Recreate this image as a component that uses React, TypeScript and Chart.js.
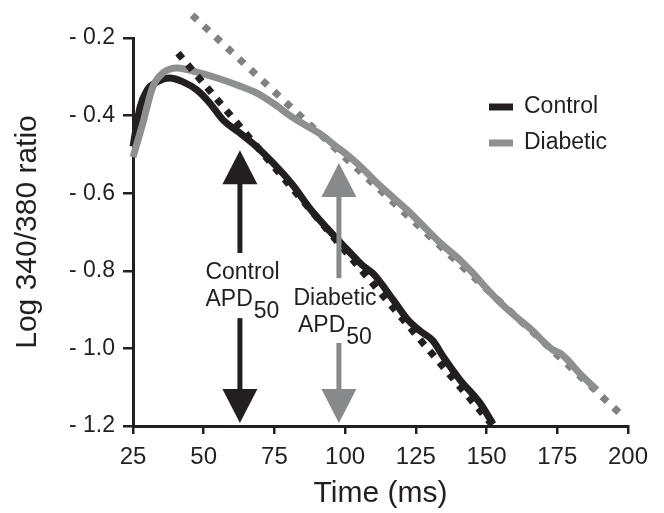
import React, { useEffect, useRef } from "react";
import { Chart, registerables } from "chart.js";

Chart.register(...registerables);

const FONT = "'Liberation Sans', Arial, Helvetica, sans-serif";
const INK = "#231f20";
const GRAY = "#8e8f91";
const GRAY_FIT = "#808183";
const GRAY_ARROW = "#88898b";

// Control trace (ms, log ratio)
const controlTime = [25, 27.5, 30, 33.5, 38, 42.7, 47.6, 52.2, 56.8, 62.8, 68.8, 74.5, 81.6, 87.6, 93.6, 100.7, 106, 110, 117, 122, 126.5, 131, 135, 140.6, 147.7, 152.3];
const controlRatio = [-0.48, -0.378, -0.334, -0.313, -0.303, -0.313, -0.334, -0.368, -0.411, -0.445, -0.481, -0.522, -0.58, -0.64, -0.69, -0.745, -0.785, -0.808, -0.875, -0.925, -0.955, -0.98, -1.025, -1.081, -1.141, -1.195];

// Diabetic trace
const diabeticTime = [25, 28.5, 32, 35.6, 40.6, 47.6, 54.7, 61.8, 68.8, 75.9, 80.5, 86, 92.2, 96, 101.7, 106, 111.3, 116, 121.9, 127, 133.6, 140.6, 145.2, 151.2, 156, 161.8, 166.4, 170, 173.5, 176, 178.4, 183, 189];
const diabeticRatio = [-0.507, -0.419, -0.326, -0.29, -0.277, -0.288, -0.303, -0.321, -0.342, -0.375, -0.4, -0.425, -0.452, -0.475, -0.507, -0.535, -0.574, -0.605, -0.643, -0.68, -0.728, -0.772, -0.806, -0.855, -0.89, -0.927, -0.955, -0.982, -1.004, -1.012, -1.028, -1.065, -1.107];

// Linear fits (dotted)
const controlFitTime = [40.9, 152.3];
const controlFitRatio = [-0.239, -1.2];
const diabeticFitTime = [45.9, 199];
const diabeticFitRatio = [-0.141, -1.18];

// Axis ticks
const xTicks = [25, 50, 75, 100, 125, 150, 175, 200];
const yTicks = [-1.2, -1.0, -0.8, -0.6, -0.4, -0.2];

// Legend
const legendLabels = ["Control", "Diabetic"];
const legendColors = [INK, GRAY];

// APD50 annotations
const apdLabels = ["Control", "Diabetic"];
const apdColors = [INK, GRAY_ARROW];
const apdTime = [62.8, 97.8];
const apdTextTime = [63.7, 96.4];
const apdTextRatio = [-0.806, -0.873];
const arrowTopTip = [-0.489, -0.522];
const arrowTopShaftEnd = [-0.754, -0.819];
const arrowBottomShaftStart = [-0.922, -0.986];
const arrowBottomTip = [-1.192, -1.192];

const toXY = (xs: number[], ys: number[]) => xs.map((x, i) => ({ x, y: ys[i] }));

function drawArrow(ctx: CanvasRenderingContext2D, x: number, yFrom: number, yTip: number, color: string) {
  const headLen = 34;
  const halfW = 17.5;
  const dir = yTip > yFrom ? 1 : -1;
  const headBase = yTip - dir * headLen;
  ctx.save();
  ctx.strokeStyle = color;
  ctx.fillStyle = color;
  ctx.lineWidth = 5;
  ctx.lineCap = "butt";
  ctx.beginPath();
  ctx.moveTo(x, yFrom);
  ctx.lineTo(x, headBase + dir * 1);
  ctx.stroke();
  ctx.beginPath();
  ctx.moveTo(x - halfW, headBase);
  ctx.lineTo(x + halfW, headBase);
  ctx.lineTo(x, yTip);
  ctx.closePath();
  ctx.fill();
  ctx.restore();
}

const annotationPlugin = {
  id: "apdAnnotations",
  afterDatasetsDraw(chart: any) {
    const { ctx } = chart;
    const xs = chart.scales.x;
    const ys = chart.scales.y;
    for (let i = 0; i < apdLabels.length; i++) {
      const px = xs.getPixelForValue(apdTime[i]);
      drawArrow(ctx, px, ys.getPixelForValue(arrowTopShaftEnd[i]), ys.getPixelForValue(arrowTopTip[i]), apdColors[i]);
      drawArrow(ctx, px, ys.getPixelForValue(arrowBottomShaftStart[i]), ys.getPixelForValue(arrowBottomTip[i]), apdColors[i]);

      const cx = xs.getPixelForValue(apdTextTime[i]);
      const cy = ys.getPixelForValue(apdTextRatio[i]);
      ctx.save();
      ctx.fillStyle = INK;
      ctx.font = `23px ${FONT}`;
      ctx.textBaseline = "middle";
      ctx.textAlign = "center";
      ctx.fillText(apdLabels[i], cx, cy);
      const wMain = ctx.measureText("APD").width;
      const wSub = ctx.measureText("50").width;
      const total = wMain + 1 + wSub;
      const sx = cx - total / 2;
      ctx.textAlign = "left";
      ctx.fillText("APD", sx, cy + 27);
      ctx.fillText("50", sx + wMain + 1, cy + 39);
      ctx.restore();
    }
  },
};

const legendPlugin = {
  id: "customLegend",
  afterDraw(chart: any) {
    const { ctx } = chart;
    ctx.save();
    ctx.font = `23px ${FONT}`;
    ctx.textBaseline = "middle";
    ctx.textAlign = "left";
    for (let i = 0; i < legendLabels.length; i++) {
      const y = 107 + i * 36;
      ctx.fillStyle = legendColors[i];
      ctx.fillRect(489, y - 3.5, 24, 7);
      ctx.fillStyle = INK;
      ctx.fillText(legendLabels[i], 524, y);
    }
    ctx.restore();
  },
};

export default function App() {
  const ref = useRef<HTMLCanvasElement | null>(null);

  useEffect(() => {
    if (!ref.current) return;
    const chart = new Chart(ref.current, {
      type: "line",
      data: {
        datasets: [
          {
            label: "Control",
            data: toXY(controlTime, controlRatio),
            borderColor: INK,
            borderWidth: 7,
            pointRadius: 0,
            cubicInterpolationMode: "monotone",
            order: 4,
            clip: false,
          },
          {
            label: "Diabetic fit",
            data: toXY(diabeticFitTime, diabeticFitRatio),
            borderColor: GRAY_FIT,
            borderWidth: 7,
            borderDash: [7, 9],
            borderCapStyle: "butt",
            pointRadius: 0,
            order: 3,
            clip: false,
          },
          {
            label: "Diabetic",
            data: toXY(diabeticTime, diabeticRatio),
            borderColor: GRAY,
            borderWidth: 7,
            pointRadius: 0,
            cubicInterpolationMode: "monotone",
            order: 2,
            clip: false,
          },
          {
            label: "Control fit",
            data: toXY(controlFitTime, controlFitRatio),
            borderColor: INK,
            borderWidth: 7,
            borderDash: [7, 8],
            borderCapStyle: "butt",
            pointRadius: 0,
            order: 1,
            clip: false,
          },
        ] as any,
      },
      options: {
        animation: false,
        responsive: false,
        maintainAspectRatio: false,
        layout: { padding: { top: 38, right: 36, left: 0, bottom: 0 } },
        plugins: { legend: { display: false }, tooltip: { enabled: false } },
        scales: {
          x: {
            type: "linear",
            min: 25,
            max: 200,
            afterBuildTicks: (s: any) => {
              s.ticks = xTicks.map((v) => ({ value: v }));
            },
            afterFit: (s: any) => {
              s.height = 87;
            },
            grid: { drawOnChartArea: false, drawTicks: true, tickLength: 8, color: INK, lineWidth: 2.5 },
            border: { display: true, color: INK, width: 3 },
            ticks: {
              color: INK,
              font: { family: FONT, size: 24 },
              padding: 9,
              maxRotation: 0,
              autoSkip: false,
              callback: (v: any) => String(v),
            },
            title: {
              display: true,
              text: "Time (ms)",
              color: INK,
              font: { family: FONT, size: 30 },
              padding: { top: 0, bottom: 1 },
            },
          },
          y: {
            type: "linear",
            min: -1.2,
            max: -0.2,
            afterBuildTicks: (s: any) => {
              s.ticks = yTicks.map((v) => ({ value: v }));
            },
            afterFit: (s: any) => {
              s.width = 133;
            },
            grid: { drawOnChartArea: false, drawTicks: true, tickLength: 10, color: INK, lineWidth: 2.5 },
            border: { display: true, color: INK, width: 3 },
            ticks: {
              color: INK,
              font: { family: FONT, size: 23 },
              padding: 8,
              autoSkip: false,
              callback: (v: any) => "- " + Math.abs(Number(v)).toFixed(1),
            },
            title: {
              display: true,
              text: "Log 340/380 ratio",
              color: INK,
              font: { family: FONT, size: 30 },
              padding: { top: 10, bottom: 0 },
            },
          },
        },
      } as any,
      plugins: [annotationPlugin, legendPlugin],
    });
    return () => chart.destroy();
  }, []);

  return (
    <canvas
      ref={ref}
      width={664}
      height={513}
      style={{ position: "fixed", left: 0, top: 0, width: 664, height: 513, display: "block", background: "#fff" }}
    />
  );
}
